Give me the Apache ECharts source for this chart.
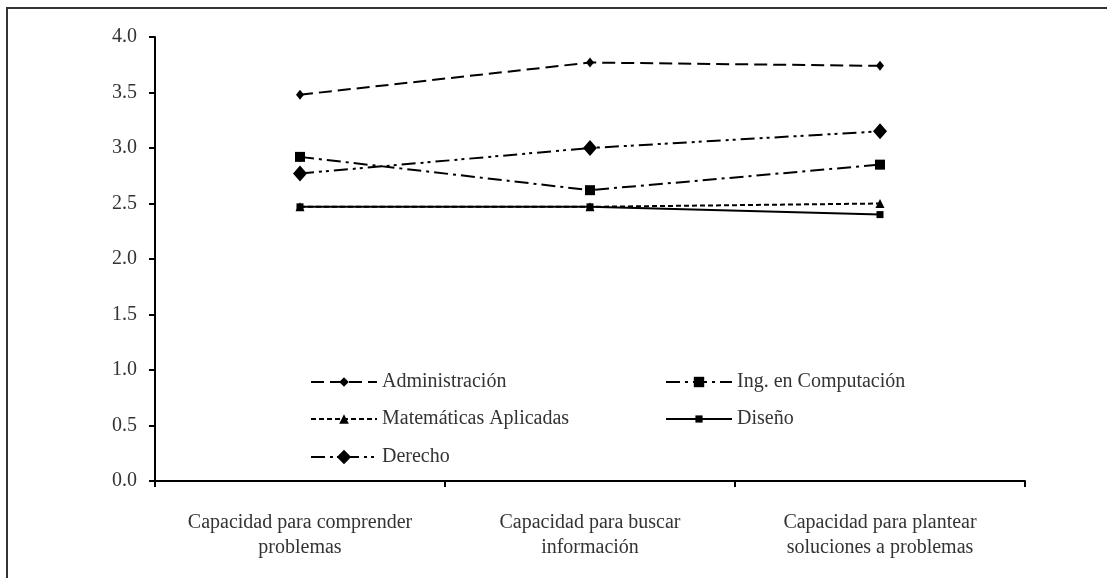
<!DOCTYPE html>
<html><head><meta charset="utf-8">
<script src="https://cdn.jsdelivr.net/npm/echarts@6/dist/echarts.min.js"></script>
<style>
html,body{margin:0;padding:0;background:#fff;}
#frame{position:absolute;left:6px;top:7px;width:1101px;height:571px;border-top:2px solid #333;border-left:2px solid #333;box-sizing:border-box;}
#chart{position:absolute;left:0;top:0;width:1107px;height:578px;}
</style></head>
<body>
<div id="frame"></div>
<div id="chart"></div>
<script>
const categories = ['Capacidad para comprender\nproblemas', 'Capacidad para buscar\ninformación', 'Capacidad para plantear\nsoluciones a problemas'];
const administracion = [3.48, 3.77, 3.74];
const computacion = [2.92, 2.62, 2.85];
const matematicas = [2.47, 2.47, 2.50];
const diseno = [2.47, 2.47, 2.40];
const derecho = [2.77, 3.00, 3.15];
const yTicks = [0, 0.5, 1, 1.5, 2, 2.5, 3, 3.5, 4];

const font = 'Liberation Serif, DejaVu Serif, serif';
const chart = echarts.init(document.getElementById('chart'));
function mk(name, data, symbol, size, dash) {
  return {
    name, type: 'line', data, symbol, symbolSize: size,
    lineStyle: {color: '#000', width: 2, type: dash},
    itemStyle: {color: '#000'},
    emphasis: {disabled: true}, animation: false
  };
}
function lg(left, top, names, h) {
  return {
    orient: 'vertical', left, top, data: names, itemWidth: 66, itemHeight: h, itemGap: 17,
    textStyle: {fontFamily: font, fontSize: 20, color: '#333', lineHeight: 20},
    selectedMode: false
  };
}
chart.setOption({
  animation: false,
  grid: {left: 155, right: 82, top: 37, bottom: 97},
  legend: [
    lg(305, 367, ['Administración', 'Matemáticas Aplicadas'], 12),
    lg(305, 442, ['Derecho'], 18),
    lg(660, 367, ['Ing. en Computación'], 13),
    lg(660, 404, ['Diseño'], 9)
  ],
  xAxis: {
    type: 'category', data: categories, boundaryGap: true,
    axisLine: {lineStyle: {color: '#000', width: 2}},
    axisTick: {show: true, interval: 0, length: 6, lineStyle: {color: '#000', width: 2}},
    axisLabel: {interval: 0, hideOverlap: false, fontFamily: font, fontSize: 20, color: '#333', margin: 29, lineHeight: 25}
  },
  yAxis: {
    type: 'value', min: yTicks[0], max: yTicks[yTicks.length - 1], interval: 0.5,
    axisLine: {show: true, lineStyle: {color: '#000', width: 2}},
    axisTick: {show: true, length: 6, lineStyle: {color: '#000', width: 2}},
    splitLine: {show: false},
    axisLabel: {fontFamily: font, fontSize: 20, color: '#333', margin: 18, formatter: v => v.toFixed(1)}
  },
  series: [
    mk('Administración', administracion, 'diamond', [8, 10], [13, 6]),
    mk('Ing. en Computación', computacion, 'rect', 10, [14, 5, 3, 5]),
    mk('Matemáticas Aplicadas', matematicas, 'triangle', 9, [5, 3]),
    mk('Diseño', diseno, 'rect', 7, 'solid'),
    mk('Derecho', derecho, 'diamond', [14, 16], [14, 5, 3, 4, 3, 5])
  ]
});
</script>
</body></html>
